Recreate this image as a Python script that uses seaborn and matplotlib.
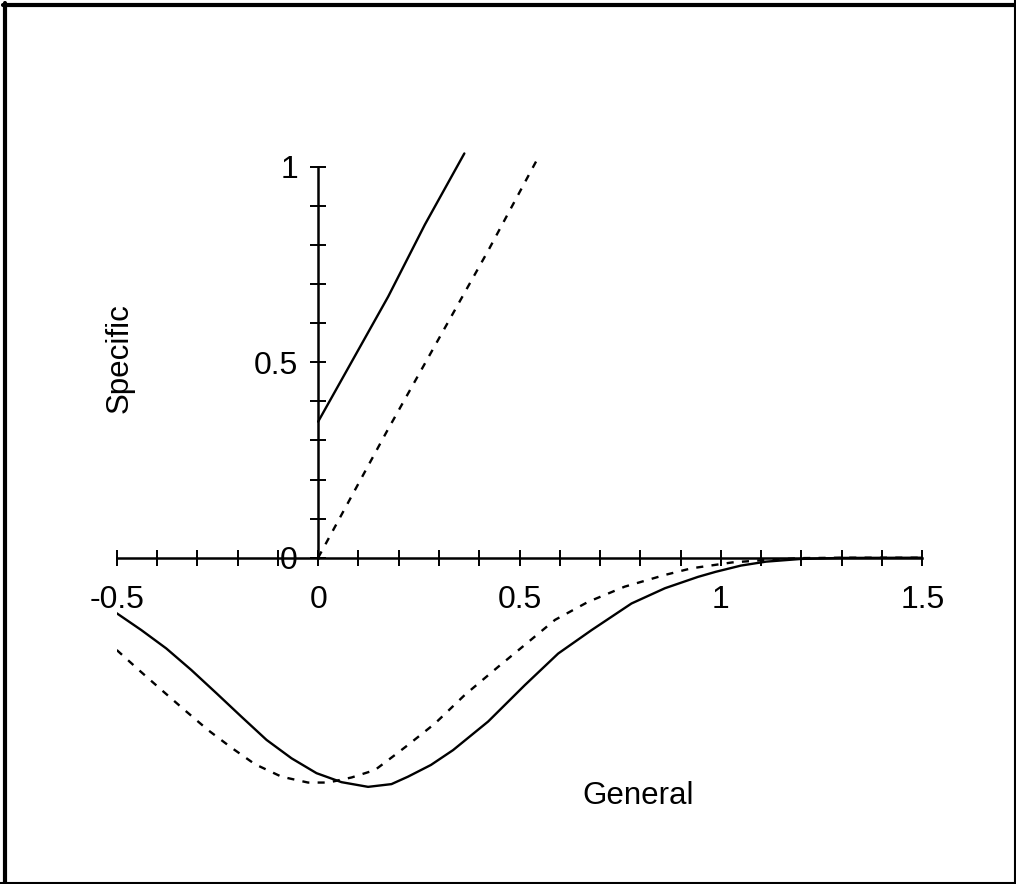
import numpy as np
import pandas as pd
import matplotlib
matplotlib.use("Agg")
import matplotlib.pyplot as plt
from matplotlib.lines import Line2D
import seaborn as sns

# ---- data ----
upper_solid_x = [0.0, 0.174, 0.265, 0.363]
upper_solid_y = [0.348, 0.668, 0.852, 1.034]

upper_dashed_x = [0.0, 0.17, 0.423, 0.545]
upper_dashed_y = [0.0, 0.322, 0.787, 1.021]

lower_solid_x = [-0.5, -0.439, -0.377, -0.315, -0.252, -0.190, -0.128, -0.066,
                 -0.004, 0.058, 0.124, 0.182, 0.223, 0.280, 0.335, 0.422, 0.513,
                 0.596, 0.679, 0.778, 0.861, 0.943, 0.987, 1.05, 1.112, 1.2,
                 1.3, 1.5]
lower_solid_y = [-0.142, -0.185, -0.232, -0.287, -0.347, -0.407, -0.466, -0.513,
                 -0.551, -0.574, -0.586, -0.579, -0.560, -0.530, -0.492, -0.419,
                 -0.326, -0.245, -0.185, -0.117, -0.078, -0.049, -0.036, -0.020,
                 -0.010, -0.003, -0.0005, 0.0]

lower_dashed_x = [-0.5, -0.443, -0.389, -0.331, -0.273, -0.215, -0.157, -0.091,
                  -0.025, 0.025, 0.083, 0.141, 0.190, 0.223, 0.290, 0.364, 0.447,
                  0.513, 0.588, 0.670, 0.761, 0.861, 0.927, 1.028, 1.12, 1.2,
                  1.3, 1.5]
lower_dashed_y = [-0.236, -0.289, -0.338, -0.390, -0.441, -0.486, -0.528, -0.560,
                  -0.575, -0.575, -0.562, -0.543, -0.505, -0.479, -0.424, -0.351,
                  -0.279, -0.223, -0.159, -0.113, -0.074, -0.044, -0.027, -0.012,
                  -0.005, -0.001, 0.0, 0.0]

x_ticks = [round(v, 1) for v in np.arange(-0.5, 1.51, 0.1)]
x_tick_labels = {-0.5: "-0.5", 0.0: "0", 0.5: "0.5", 1.0: "1", 1.5: "1.5"}
y_ticks = [round(v, 1) for v in np.arange(0.0, 1.01, 0.1)]
y_tick_labels = {0.0: "0", 0.5: "0.5", 1.0: "1"}

x_label = "General"
y_label = "Specific"

# ---- style ----
sns.set_style("white")
plt.rcParams["font.family"] = ["Liberation Sans", "DejaVu Sans"]
plt.rcParams["text.color"] = "black"
plt.rcParams["axes.labelcolor"] = "black"

fig = plt.figure(figsize=(10.16, 8.84), dpi=100)
ax = fig.add_axes([0.1149, 0.1037, 0.7929, 0.7298])

lw = 1.7
dash = (0, (3, 3.5))

sns.lineplot(x=upper_solid_x, y=upper_solid_y, ax=ax, color="black", lw=lw,
             estimator=None, sort=False)
sns.lineplot(x=upper_dashed_x, y=upper_dashed_y, ax=ax, color="black", lw=lw,
             linestyle=dash, estimator=None, sort=False)
sns.lineplot(x=lower_solid_x, y=lower_solid_y, ax=ax, color="black", lw=lw,
             estimator=None, sort=False)
sns.lineplot(x=lower_dashed_x, y=lower_dashed_y, ax=ax, color="black", lw=lw,
             linestyle=dash, estimator=None, sort=False)

ax.set_xlim(-0.5, 1.5)
ax.set_ylim(-0.6, 1.05)

for s in ["top", "right"]:
    ax.spines[s].set_visible(False)
ax.spines["left"].set_position(("data", 0))
ax.spines["bottom"].set_position(("data", 0))
ax.spines["left"].set_bounds(0, 1)
ax.spines["bottom"].set_bounds(-0.5, 1.5)
for s in ["left", "bottom"]:
    ax.spines[s].set_linewidth(1.8)
    ax.spines[s].set_color("black")

ax.set_xticks(x_ticks)
ax.set_xticklabels([x_tick_labels.get(t, "") for t in x_ticks])
ax.set_yticks(y_ticks)
ax.set_yticklabels([y_tick_labels.get(t, "") for t in y_ticks])

ax.tick_params(axis="x", direction="inout", length=11, width=1.4, pad=14,
               labelsize=23, color="black", labelcolor="black", bottom=True)
ax.tick_params(axis="y", direction="inout", length=11, width=1.4, pad=9,
               labelsize=23, color="black", labelcolor="black", left=True)

ax.set_xlabel(x_label, fontsize=22.5, va="center", ha="center", color="black")
ax.xaxis.set_label_coords(0.647, -0.005)
ax.set_ylabel(y_label, fontsize=22.5, va="center", ha="center", color="black")
ax.yaxis.set_label_coords(0.003, 0.673)

ax.patch.set_alpha(0)

# page frame (thick left/top, thin bottom/right as in the scan)
W, H = 1016.0, 884.0
fig.add_artist(Line2D([5 / W, 5 / W], [0, 1 - 3 / H], transform=fig.transFigure,
                      color="black", lw=3))
fig.add_artist(Line2D([3 / W, 1], [1 - 5 / H, 1 - 5 / H], transform=fig.transFigure,
                      color="black", lw=3))
fig.add_artist(Line2D([0, 1], [1 / H, 1 / H], transform=fig.transFigure,
                      color="black", lw=1.5))
fig.add_artist(Line2D([1 - 1 / W, 1 - 1 / W], [0, 1], transform=fig.transFigure,
                      color="black", lw=1.5))

fig.savefig("out.png", dpi=100, facecolor="white")
